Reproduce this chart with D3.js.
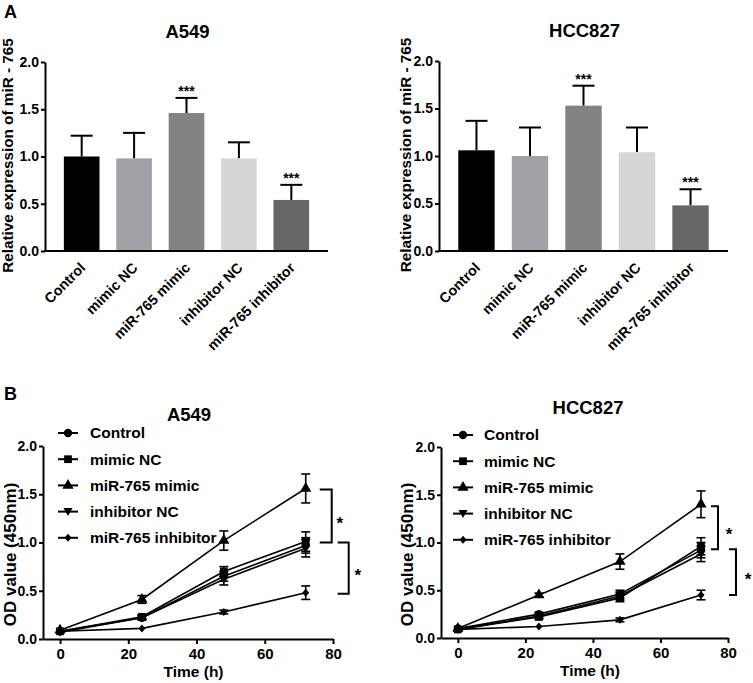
<!DOCTYPE html>
<html><head><meta charset="utf-8">
<script src="https://cdn.jsdelivr.net/npm/d3@7"></script>
<style>
body{margin:0;background:#fff;}
svg{display:block;font-family:"Liberation Sans",Arial,sans-serif;font-weight:bold;}
</style></head>
<body><svg id="c" width="753" height="683"></svg>
<script>
// ---------- DATA ----------
const groups = ["Control","mimic NC","miR-765 mimic","inhibitor NC","miR-765 inhibitor"];
const barColors = ["#000000","#a2a2a6","#838383","#d6d6d6","#666666"];
const yTicksBar = [0,0.5,1.0,1.5,2.0];
const a549Expr = [1.00,0.98,1.46,0.98,0.54];
const a549ExprErr = [0.22,0.27,0.16,0.17,0.16];
const a549ExprSig = ["","","***","","***"];
const hccExpr = [1.06,1.00,1.53,1.04,0.48];
const hccExprErr = [0.31,0.30,0.21,0.26,0.17];
const hccExprSig = ["","","***","","***"];

const times = [0,24,48,72];
const xTicksTime = [0,20,40,60,80];
const yTicksOD = [0,0.5,1.0,1.5,2.0];
const markers = ["circle","square","triangle","triangleDown","diamond"];
// A549 OD values per group
const a549OD_control = [0.08,0.22,0.65,0.97];
const a549OD_mimicNC = [0.08,0.23,0.70,1.01];
const a549OD_mimic = [0.09,0.41,1.02,1.56];
const a549OD_inhNC = [0.07,0.22,0.62,0.94];
const a549OD_inh = [0.08,0.11,0.28,0.48];
const a549OD_controlErr = [0.01,0.02,0.05,0.08];
const a549OD_mimicNCErr = [0.01,0.02,0.05,0.10];
const a549OD_mimicErr = [0.01,0.04,0.10,0.15];
const a549OD_inhNCErr = [0.01,0.02,0.06,0.09];
const a549OD_inhErr = [0.01,0.01,0.02,0.07];
const a549Brackets = [[1.55,1.00],[1.00,0.47]];
// HCC827 OD values per group
const hccOD_control = [0.10,0.25,0.46,0.92];
const hccOD_mimicNC = [0.09,0.22,0.42,0.96];
const hccOD_mimic = [0.10,0.45,0.80,1.40];
const hccOD_inhNC = [0.09,0.23,0.44,0.88];
const hccOD_inh = [0.09,0.12,0.19,0.45];
const hccOD_controlErr = [0.01,0.02,0.04,0.08];
const hccOD_mimicNCErr = [0.01,0.02,0.04,0.09];
const hccOD_mimicErr = [0.01,0.02,0.08,0.14];
const hccOD_inhNCErr = [0.01,0.02,0.04,0.08];
const hccOD_inhErr = [0.01,0.01,0.02,0.05];
const hccBrackets = [[1.38,0.93],[0.93,0.45]];

// ---------- DRAW ----------
const svg = d3.select("#c");
const FONT = "'Liberation Sans',Arial,sans-serif";

svg.append("text").attr("x",4).attr("y",18).attr("font-size",18).text("A");
svg.append("text").attr("x",4).attr("y",400).attr("font-size",18).text("B");

function styleAxis(g){
  g.selectAll("path,line").attr("stroke","#000").attr("stroke-width",2);
  g.selectAll("text").attr("font-family",FONT).attr("font-weight","bold").attr("fill","#000");
}

function barPanel(o){
  const {x0,x1,y0,y2,title,titleY,labelX,values,errs,sig} = o;
  const x = d3.scaleBand().domain(groups).range([x0,x1]).paddingInner(0.32).paddingOuter(0.36);
  const y = d3.scaleLinear().domain([0,2]).range([y0,y2]);
  const g = svg.append("g");
  g.append("text").attr("x",(x0+x1)/2+1).attr("y",titleY).attr("text-anchor","middle").attr("font-size",18.5).text(title);
  groups.forEach((k,i)=>{
    const cx = x(k)+x.bandwidth()/2;
    const top = y(values[i]+errs[i]);
    g.append("line").attr("x1",cx).attr("x2",cx).attr("y1",y(values[i])).attr("y2",top).attr("stroke","#000").attr("stroke-width",2);
    g.append("line").attr("x1",cx-11).attr("x2",cx+11).attr("y1",top).attr("y2",top).attr("stroke","#000").attr("stroke-width",2);
    g.append("rect").attr("x",x(k)).attr("width",x.bandwidth()).attr("y",y(values[i])).attr("height",y(0)-y(values[i])).attr("fill",barColors[i]);
    if(sig[i]) g.append("text").attr("x",cx).attr("y",top-2).attr("text-anchor","middle").attr("font-size",14).text(sig[i]);
  });
  const ya = g.append("g").attr("transform",`translate(${x0},0)`)
    .call(d3.axisLeft(y).tickValues(yTicksBar).tickFormat(d3.format(".1f")).tickSize(4).tickSizeOuter(0).tickPadding(2));
  styleAxis(ya); ya.selectAll("text").attr("font-size",14);
  g.append("line").attr("x1",x0-1).attr("x2",x1).attr("y1",y0).attr("y2",y0).attr("stroke","#000").attr("stroke-width",2);
  groups.forEach(k=>{
    const cx = x(k)+x.bandwidth()/2;
    g.append("text").attr("transform",`translate(${cx-3},${y0+10}) rotate(-45)`).attr("text-anchor","end").attr("dy","0.75em").attr("font-size",14.3).text(k);
  });
  g.append("text").attr("transform",`translate(${labelX},${(y0+y2)/2-1}) rotate(-90)`).attr("text-anchor","middle").attr("dy","0.35em").attr("font-size",15.3).text("Relative expression of miR - 765");
}

barPanel({x0:45,x1:328,y0:251,y2:62,title:"A549",titleY:38,labelX:8,values:a549Expr,errs:a549ExprErr,sig:a549ExprSig});
barPanel({x0:439,x1:728,y0:251,y2:61,title:"HCC827",titleY:37,labelX:406,values:hccExpr,errs:hccExprErr,sig:hccExprSig});

function markerPath(type){
  switch(type){
    case "circle": return d3.symbol(d3.symbolCircle,55)();
    case "square": return d3.symbol(d3.symbolSquare,60)();
    case "triangle": return d3.symbol(d3.symbolTriangle,55)();
    case "triangleDown": return "M-4.5,-3.5L4.5,-3.5L0,4.5Z";
    case "diamond": return "M0,-4L3.5,0L0,4L-3.5,0Z";
  }
}

function linePanel(o){
  const {x0,x1,y0,y2,title,titleY,titleX,labelX,series,errs,brackets,leg,br} = o;
  const x = d3.scaleLinear().domain([-5,80]).range([x0,x1]);
  const y = d3.scaleLinear().domain([0,2]).range([y0,y2]);
  const g = svg.append("g");
  g.append("text").attr("x",titleX).attr("y",titleY).attr("text-anchor","middle").attr("font-size",18.5).text(title);
  const line = d3.line().x((d,i)=>x(times[i])).y(d=>y(d));
  series.forEach((s,k)=>{
    g.append("path").attr("d",line(s)).attr("fill","none").attr("stroke","#000").attr("stroke-width",1.6);
  });
  series.forEach((s,k)=>{
    s.forEach((v,i)=>{
      const cx = x(times[i]), e = errs[k][i];
      if(e>0.015){
        g.append("line").attr("x1",cx).attr("x2",cx).attr("y1",y(v-e)).attr("y2",y(v+e)).attr("stroke","#000").attr("stroke-width",1.6);
        [v-e,v+e].forEach(t=>g.append("line").attr("x1",cx-4.5).attr("x2",cx+4.5).attr("y1",y(t)).attr("y2",y(t)).attr("stroke","#000").attr("stroke-width",1.6));
      }
      g.append("path").attr("d",markerPath(markers[k])).attr("transform",`translate(${cx},${y(v)})`).attr("fill","#000");
    });
  });
  const ya = g.append("g").attr("transform",`translate(${x0},0)`)
    .call(d3.axisLeft(y).tickValues(yTicksOD).tickFormat(d3.format(".1f")).tickSize(4).tickSizeOuter(0).tickPadding(2));
  styleAxis(ya); ya.selectAll("text").attr("font-size",14);
  const xa = g.append("g").attr("transform",`translate(0,${y0})`)
    .call(d3.axisBottom(x).tickValues(xTicksTime).tickFormat(d3.format("d")).tickSize(5).tickSizeOuter(0).tickPadding(4));
  styleAxis(xa); xa.selectAll("text").attr("font-size",15);
  g.append("text").attr("x",(x(0)+x(80))/2-3).attr("y",y0+38).attr("text-anchor","middle").attr("font-size",15.5).text("Time (h)");
  g.append("text").attr("transform",`translate(${labelX},${(y0+y2)/2+12}) rotate(-90)`).attr("text-anchor","middle").attr("dy","0.35em").attr("font-size",17).text("OD value (450nm)");
  groups.forEach((k,i)=>{
    const ly = leg.y + i*26.2;
    g.append("line").attr("x1",leg.x).attr("x2",leg.x+20).attr("y1",ly).attr("y2",ly).attr("stroke","#000").attr("stroke-width",2);
    g.append("path").attr("d",markerPath(markers[i])).attr("transform",`translate(${leg.x+10},${ly})`).attr("fill","#000");
    g.append("text").attr("x",leg.tx).attr("y",ly).attr("dy","0.35em").attr("font-size",15.5).text(k);
  });
  const xr = x(72);
  brackets.forEach((b,i)=>{
    const [l,r,s] = br[i];
    g.append("path").attr("d",`M${xr+l},${y(b[0])}H${xr+r}V${y(b[1])}H${xr+l}`).attr("fill","none").attr("stroke","#000").attr("stroke-width",2);
    g.append("text").attr("x",xr+s).attr("y",(y(b[0])+y(b[1]))/2).attr("dy","0.75em").attr("text-anchor","middle").attr("font-size",17).text("*");
  });
}

linePanel({x0:43,x1:333,y0:639,y2:446,title:"A549",titleY:421,titleX:189,labelX:10,
  series:[a549OD_control,a549OD_mimicNC,a549OD_mimic,a549OD_inhNC,a549OD_inh],
  errs:[a549OD_controlErr,a549OD_mimicNCErr,a549OD_mimicErr,a549OD_inhNCErr,a549OD_inhErr],
  brackets:a549Brackets, leg:{x:58,y:433,tx:90}, br:[[14,26,34],[32,43,52]]});
linePanel({x0:441,x1:728,y0:638,y2:447,title:"HCC827",titleY:414,titleX:588,labelX:407,
  series:[hccOD_control,hccOD_mimicNC,hccOD_mimic,hccOD_inhNC,hccOD_inh],
  errs:[hccOD_controlErr,hccOD_mimicNCErr,hccOD_mimicErr,hccOD_inhNCErr,hccOD_inhErr],
  brackets:hccBrackets, leg:{x:453,y:435,tx:484}, br:[[10,17,28],[28,35,47]]});
</script></body></html>
